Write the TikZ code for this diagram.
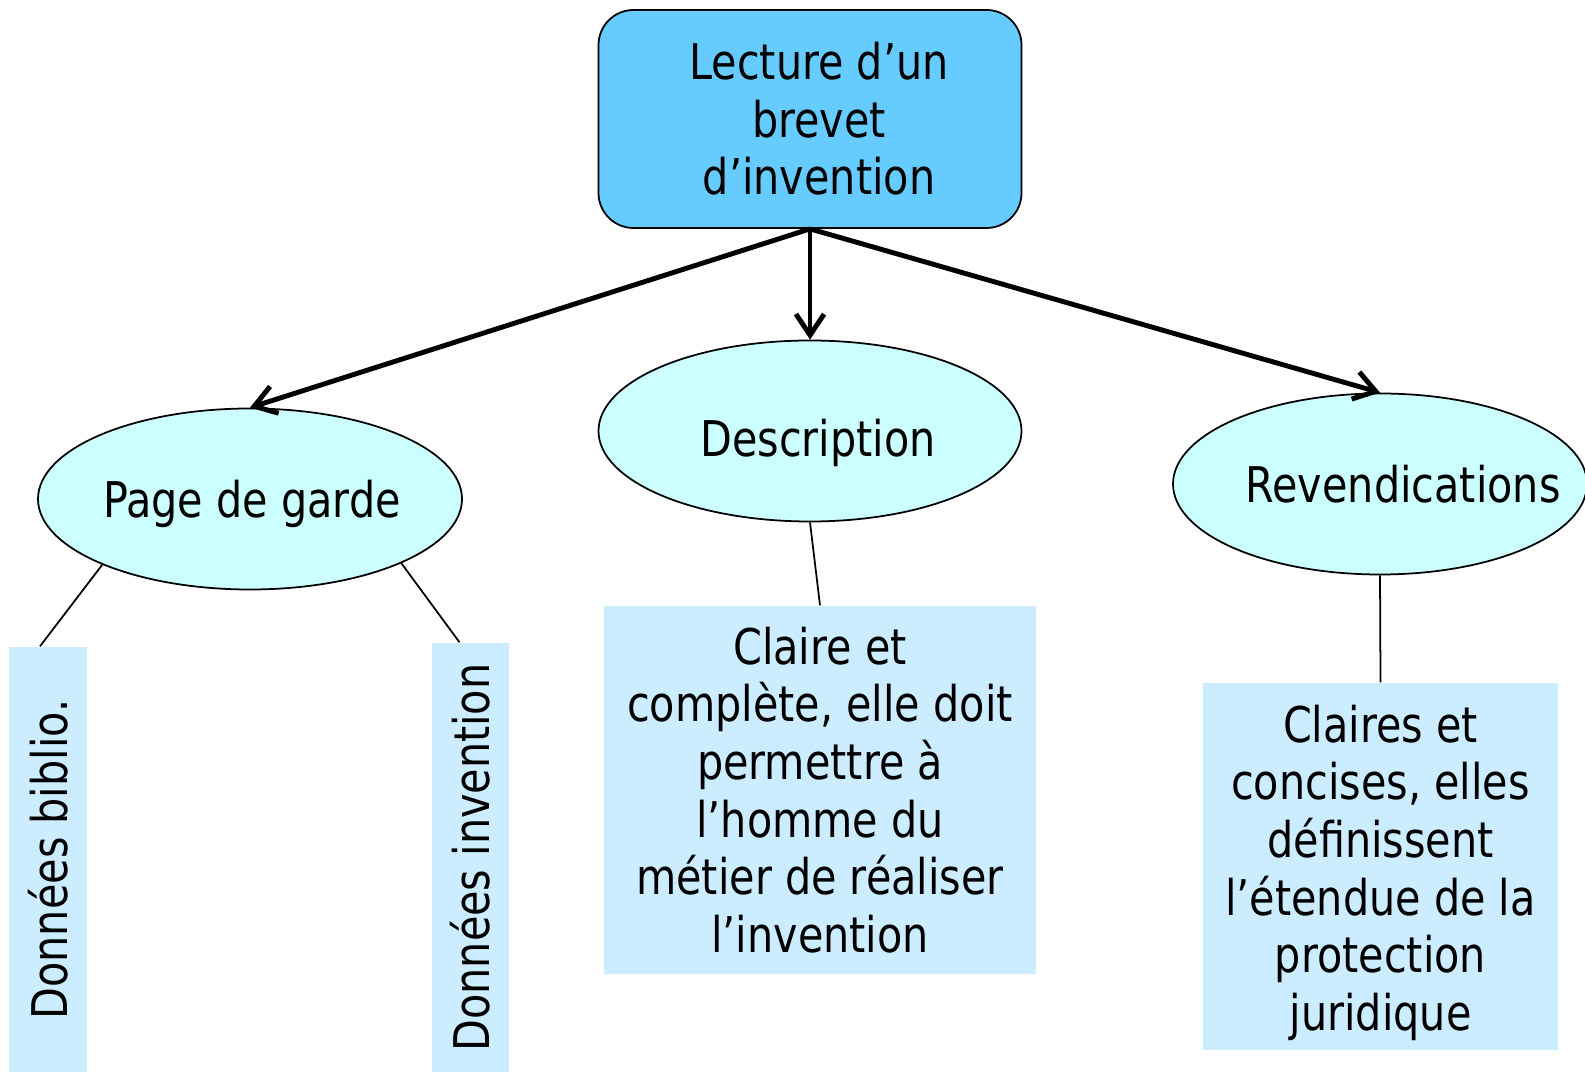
\documentclass[tikz,border=0pt]{standalone}
\usepackage{fontspec}
\setmainfont{DejaVu Sans}[FakeStretch=0.84]
\usepackage{tikz}
\usetikzlibrary{shapes.geometric}
\usetikzlibrary{arrows.meta}

\definecolor{topblue}{RGB}{102,204,255}
\definecolor{ovalcyan}{RGB}{204,255,255}
\definecolor{boxblue}{RGB}{204,236,255}

\begin{document}
\begin{tikzpicture}[draw=black,
    >={Straight Barb[length=6pt,width=8pt]},
    txt/.style={font=\fontsize{14}{16.4}\selectfont,align=center,inner sep=0pt},
    root/.style={txt,draw,line width=0.5pt,fill=topblue,rounded corners=0.35cm,
      minimum width=4.23cm,minimum height=2.18cm},
    oval/.style={txt,ellipse,draw,line width=0.5pt,fill=ovalcyan,
      minimum width=4.23cm,minimum height=1.81cm},
    note/.style={txt,fill=boxblue},
    link/.style={->,line width=1.4pt},
    thin/.style={line width=0.5pt}]
        \useasboundingbox (0,0) rectangle (15.85,-10.72);
        \node[root] (lecture) at (8.10,-1.19) {\hspace*{0.18cm}Lecture d'un\\\hspace*{0.18cm}brevet\\\hspace*{0.18cm}d'invention};
        % second level
        \node[oval,minimum width=4.24cm,
          label={[txt,xshift=0.02cm,yshift=-0.05cm]center:Page de garde}] (garde) at (2.50,-4.99) {};
        \node[oval,
          label={[txt,xshift=0.08cm,yshift=-0.12cm]center:Description}] (descr) at (8.10,-4.31) {};
        \node[oval,minimum width=4.14cm,
          label={[txt,xshift=0.23cm]center:Revendications}] (revend) at (13.80,-4.84) {};
        \draw[link] (lecture.south) -- (garde.north);
        \draw[link] (lecture.south) -- (descr.north);
        \draw[link] (lecture.south) -- (revend.north);
        % leaves
        \node[note,rotate=90,minimum width=4.25cm,minimum height=0.78cm] (biblio) at (0.48,-8.595) {Données biblio.};
        \node[note,rotate=90,minimum width=4.29cm,minimum height=0.77cm] (invent) at (4.705,-8.575) {Données invention};
        \node[note,minimum width=4.32cm,minimum height=3.68cm] (claire) at (8.20,-7.90)
          {Claire et\\complète, elle doit\\permettre à\\l'homme du\\métier de réaliser\\l'invention};
        \node[note,minimum width=3.55cm,minimum height=3.67cm] (claires) at (13.805,-8.665)
          {\\[-0.08cm]Claires et\\concises, elles\\définissent\\l'étendue de la\\protection\\juridique};
        \draw[thin] (garde.204) -- ([xshift=-0.08cm]biblio.east);
        \draw[thin] (garde.337) -- ([xshift=-0.11cm]invent.east);
        \draw[thin] (descr.south) -- (claire.north);
        \draw[thin] (revend.south) -- (claires.north);
      \end{tikzpicture}
\end{document}
